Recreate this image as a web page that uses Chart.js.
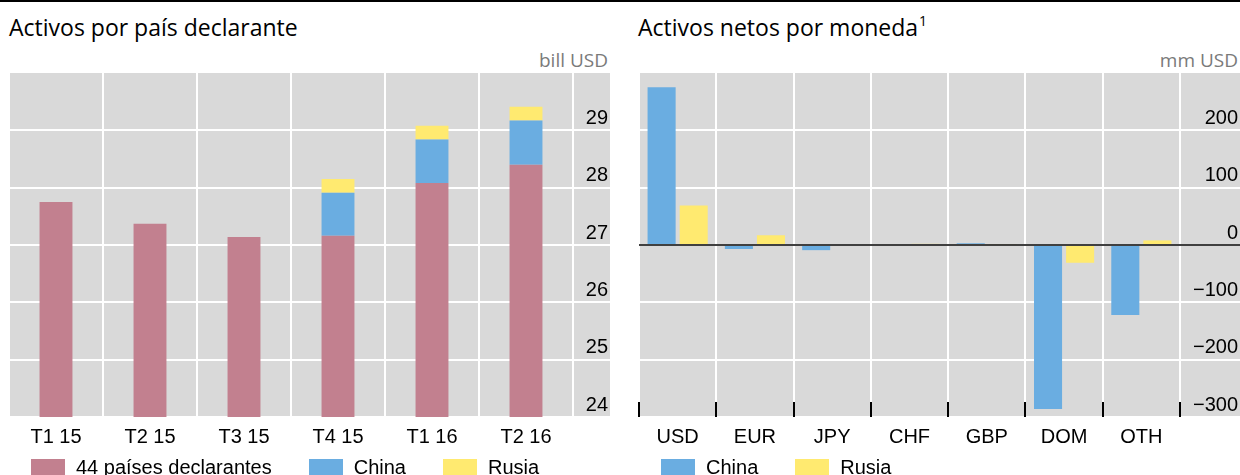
<!DOCTYPE html>
<html>
<head>
<meta charset="utf-8">
<script src="https://cdn.jsdelivr.net/npm/chart.js@4.4.1/dist/chart.umd.min.js"></script>
<style>
  body { margin: 0; width: 1240px; height: 475px; overflow: hidden; background: #fff; position: relative;
         font-family: 'Liberation Sans', Arial, sans-serif; }
  #topline { position: absolute; left: 0; top: 0; width: 1240px; height: 2px; background: #000; }
  .title { position: absolute; top: 11px; font-family: 'Open Sans', sans-serif; font-size: 23px; color: #000; white-space: nowrap; }
  .title sup { font-size: 14px; vertical-align: 10px; line-height: 0; margin-left: 1px; }
  .unit { position: absolute; top: 47px; font-family: 'Open Sans', sans-serif; font-size: 19px; color: #7a7a7a; white-space: nowrap; }
  .box { position: absolute; top: 60px; width: 620px; height: 400px; }
  .legend { position: absolute; top: 456px; display: flex; align-items: center; font-size: 20px; color: #000; white-space: nowrap; }
  .legend span.sw { display: inline-block; width: 34px; height: 17px; margin-right: 11px; }
  .legend span.item { display: flex; align-items: center; margin-right: 37px; }
</style>
</head>
<body>
<div id="topline"></div>
<div class="title" style="left:9px">Activos por país declarante</div>
<div class="unit" style="right:632px">bill USD</div>
<div class="title" style="left:638px">Activos netos por moneda<sup>1</sup></div>
<div class="unit" style="right:2px">mm USD</div>

<div class="box" style="left:0"><canvas id="leftChart" width="620" height="400"></canvas></div>
<div class="box" style="left:620px"><canvas id="rightChart" width="620" height="400"></canvas></div>

<div class="legend" style="left:31px">
  <span class="item"><span class="sw" style="background:#c2808f"></span>44 países declarantes</span>
  <span class="item"><span class="sw" style="background:#6aade1"></span>China</span>
  <span class="item"><span class="sw" style="background:#ffea70"></span>Rusia</span>
</div>
<div class="legend" style="left:661px">
  <span class="item"><span class="sw" style="background:#6aade1"></span>China</span>
  <span class="item"><span class="sw" style="background:#ffea70"></span>Rusia</span>
</div>

<script>
// left panel: assets by reporting country, trillions USD
const quarters = ['T1 15', 'T2 15', 'T3 15', 'T4 15', 'T1 16', 'T2 16'];
const reporters44 = [27.75, 27.37, 27.14, 27.16, 28.08, 28.40];
const chinaAssets = [null, null, null, 0.75, 0.76, 0.77];
const russiaAssets = [null, null, null, 0.24, 0.24, 0.24];
const leftTicks = [24, 25, 26, 27, 28, 29];

// right panel: net assets by currency, billions USD
const currencies = ['USD', 'EUR', 'JPY', 'CHF', 'GBP', 'DOM', 'OTH'];
const chinaNet = [275, -7, -9, 0, 3, -286, -122];
const russiaNet = [69, 17, 0, 2, 1.5, -31, 8];
const rightTicks = [-300, -200, -100, 0, 100, 200];

const PINK = '#c2808f', BLUE = '#6aade1', YELLOW = '#ffea70', BG = '#d9d9d9';
const tickFont = { family: "'Liberation Sans', Arial, sans-serif", size: 20 };

// grey panel incl. label column, and white grid lines through the label column
const panelBg = {
  id: 'panelBg',
  beforeDraw(chart) {
    const { ctx, chartArea } = chart;
    const y = chart.scales.y;
    ctx.save();
    ctx.fillStyle = BG;
    ctx.fillRect(chartArea.left, chartArea.top, y.right + 2 - chartArea.left, chartArea.bottom - chartArea.top);
    ctx.strokeStyle = '#fff';
    ctx.lineWidth = 2;
    y.ticks.forEach(t => {
      const py = Math.round(y.getPixelForValue(t.value));
      ctx.beginPath();
      ctx.moveTo(chartArea.right, py);
      ctx.lineTo(y.right + 2, py);
      ctx.stroke();
    });
    ctx.restore();
  }
};

// zero line and inward category ticks (right panel)
const zeroAndTicks = {
  id: 'zeroAndTicks',
  afterDatasetsDraw(chart) {
    const { ctx, chartArea } = chart;
    const y = chart.scales.y, x = chart.scales.x;
    ctx.save();
    ctx.strokeStyle = '#000';
    ctx.lineWidth = 1.5;
    const zy = y.getPixelForValue(0);
    ctx.beginPath();
    ctx.moveTo(chartArea.left, zy);
    ctx.lineTo(y.right + 2, zy);
    ctx.stroke();
    ctx.lineWidth = 2;
    const n = x.getLabels().length;
    const w = (x.right - x.left) / n;
    for (let i = 0; i <= n; i++) {
      const px = Math.round(x.left + i * w);
      ctx.beginPath();
      ctx.moveTo(px, chartArea.bottom - 15);
      ctx.lineTo(px, chartArea.bottom);
      ctx.stroke();
    }
    ctx.restore();
  }
};

function yAxis(min, max, tickList, width, fmt) {
  return {
    position: 'right',
    min: min, max: max,
    stacked: true,
    afterFit: s => { s.width = width; },
    afterBuildTicks: s => { s.ticks = tickList.map(v => ({ value: v })); },
    grid: { color: '#fff', lineWidth: 2, drawTicks: false },
    border: { display: false },
    ticks: { font: tickFont, color: '#000', crossAlign: 'far', padding: 0, labelOffset: -12, callback: fmt }
  };
}

function xAxis(stacked) {
  return {
    stacked: stacked,
    afterFit: s => { s.height = 38; },
    grid: { color: '#fff', lineWidth: 2, drawTicks: false, offset: true },
    border: { display: false },
    ticks: { font: tickFont, color: '#000', padding: 8, maxRotation: 0, autoSkip: false }
  };
}

new Chart(document.getElementById('leftChart'), {
  type: 'bar',
  data: {
    labels: quarters,
    datasets: [
      { label: '44 países declarantes', data: reporters44, backgroundColor: PINK },
      { label: 'China', data: chinaAssets, backgroundColor: BLUE },
      { label: 'Rusia', data: russiaAssets, backgroundColor: YELLOW }
    ]
  },
  options: {
    responsive: false,
    animation: false,
    devicePixelRatio: 1,
    layout: { padding: { left: 9, right: 12, top: 13, bottom: 5 } },
    datasets: { bar: { categoryPercentage: 0.35, barPercentage: 1, borderWidth: 0 } },
    plugins: { legend: { display: false }, tooltip: { enabled: false } },
    scales: {
      x: xAxis(true),
      y: yAxis(24, 30, leftTicks, 35, v => String(v))
    }
  },
  plugins: [panelBg]
});

new Chart(document.getElementById('rightChart'), {
  type: 'bar',
  data: {
    labels: currencies,
    datasets: [
      { label: 'China', data: chinaNet, backgroundColor: BLUE },
      { label: 'Rusia', data: russiaNet, backgroundColor: YELLOW }
    ]
  },
  options: {
    responsive: false,
    animation: false,
    devicePixelRatio: 1,
    layout: { padding: { left: 19, right: 2, top: 13, bottom: 5 } },
    datasets: { bar: { categoryPercentage: 0.83, barPercentage: 0.875, borderWidth: 0 } },
    plugins: { legend: { display: false }, tooltip: { enabled: false } },
    scales: {
      x: xAxis(false),
      y: Object.assign(yAxis(-300, 300, rightTicks, 58, v => v < 0 ? '\u2212' + Math.abs(v) : String(v)), { stacked: false })
    }
  },
  plugins: [panelBg, zeroAndTicks]
});
</script>
</body>
</html>
